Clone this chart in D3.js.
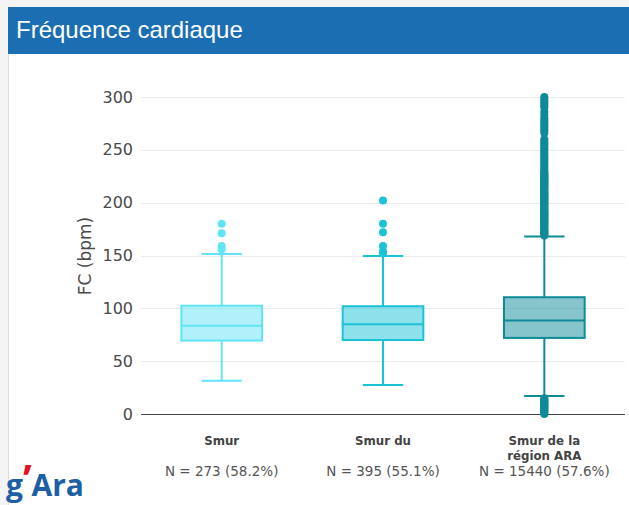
<!DOCTYPE html>
<html><head><meta charset="utf-8">
<script src="https://cdn.jsdelivr.net/npm/d3@7"></script>
<style>html,body{margin:0;padding:0;background:#f4f4f4;overflow:hidden}</style>
</head><body><svg id="c" width="629" height="505"></svg>
<script>
const title = "Fréquence cardiaque";
const yLabel = "FC (bpm)";
const categories = ["Smur", "Smur du", "Smur de la région ARA"];
const catLines = [["Smur"], ["Smur du"], ["Smur de la", "région ARA"]];
const counts = ["N = 273 (58.2%)", "N = 395 (55.1%)", "N = 15440 (57.6%)"];
const lowerWhisker = [31.5, 27.5, 17];
const q1 = [69.5, 70, 72];
const median = [83.5, 85, 88.5];
const q3 = [102.5, 102, 110.5];
const upperWhisker = [151.5, 149.5, 168];
const outliersSmur = [180, 171, 159, 156];
const outliersSmurDu = [202, 180, 172, 159, 154, 152];
const outliersAra = [0,1,2,3,4,5,6,7,8,9,10,11,12,13,14,15,
  169,170,171,172,173,174,175,176,177,178,179,180,181,182,183,184,185,186,187,188,189,190,
  191,192,193,194,195,196,197,198,199,200,201,202,203,204,205,206,207,208,209,210,211,212,
  213,214,215,216,217,218,219,220,221,222,223,224,225,226,227,228,229,230,232,234,236,238,
  240,242,244,246,248,250,252,254,256,258,260,266,268,270,272,274,276,278,280,283,286,
  290,292,294,296,298,300];
const outliers = [outliersSmur, outliersSmurDu, outliersAra];
const colors = ["#62e4f7", "#1cc3d6", "#0e8b97"];
const yTicks = [0, 50, 100, 150, 200, 250, 300];

const svg = d3.select("#c");
// panel
svg.append("rect").attr("x", 8).attr("y", 54).attr("width", 621).attr("height", 451)
  .attr("fill", "#fff");
svg.append("line").attr("x1", 8.5).attr("x2", 8.5).attr("y1", 54).attr("y2", 505)
  .attr("stroke", "#dcdcdc");
svg.append("rect").attr("x", 8).attr("y", 7).attr("width", 621).attr("height", 47)
  .attr("fill", "#1b6eb2");
svg.append("text").attr("x", 16).attr("y", 38).text(title)
  .attr("fill", "#fff").attr("font-family", "Liberation Sans, Arial, sans-serif")
  .attr("font-size", 24);

const y = d3.scaleLinear().domain([0, 300]).range([414, 97]);
const x = d3.scaleBand().domain(categories).range([141, 625]).padding(0);

// grid
const g = svg.append("g");
g.selectAll("line.grid").data(yTicks.filter(d => d > 0)).join("line")
  .attr("x1", 141).attr("x2", 625)
  .attr("y1", d => Math.round(y(d)) + 0.5).attr("y2", d => Math.round(y(d)) + 0.5)
  .attr("stroke", "#ebebeb").attr("stroke-width", 1);
g.append("line").attr("x1", 141).attr("x2", 625)
  .attr("y1", Math.round(y(0)) + 0.5).attr("y2", Math.round(y(0)) + 0.5)
  .attr("stroke", "#444").attr("stroke-width", 1);

// y axis
const yAxis = d3.axisLeft(y).tickValues(yTicks).tickSize(0).tickPadding(4);
const ya = svg.append("g").attr("transform", "translate(137,0)").call(yAxis);
ya.select(".domain").remove();
ya.selectAll("text").attr("font-family", "DejaVu Sans, Verdana, sans-serif")
  .attr("font-size", 16).attr("fill", "#4a4a4a");
svg.append("text").attr("transform", "translate(91,256) rotate(-90)")
  .attr("text-anchor", "middle").text(yLabel)
  .attr("font-family", "DejaVu Sans, Verdana, sans-serif").attr("font-size", 17).attr("fill", "#4a4a4a");

// boxes
categories.forEach((c, i) => {
  const cx = x(c) + x.bandwidth() / 2;
  const bw = x.bandwidth() / 2;
  const col = colors[i];
  const bg = svg.append("g");
  bg.append("line").attr("x1", cx).attr("x2", cx)
    .attr("y1", y(upperWhisker[i])).attr("y2", y(q3[i])).attr("stroke", col).attr("stroke-width", 2);
  bg.append("line").attr("x1", cx).attr("x2", cx)
    .attr("y1", y(q1[i])).attr("y2", y(lowerWhisker[i])).attr("stroke", col).attr("stroke-width", 2);
  [upperWhisker[i], lowerWhisker[i]].forEach(v => {
    bg.append("line").attr("x1", cx - bw / 4).attr("x2", cx + bw / 4)
      .attr("y1", y(v)).attr("y2", y(v)).attr("stroke", col).attr("stroke-width", 2);
  });
  bg.append("rect").attr("x", cx - bw / 2).attr("width", bw)
    .attr("y", y(q3[i])).attr("height", y(q1[i]) - y(q3[i]))
    .attr("fill", col).attr("fill-opacity", 0.5).attr("stroke", col).attr("stroke-width", 2);
  bg.append("line").attr("x1", cx - bw / 2).attr("x2", cx + bw / 2)
    .attr("y1", y(median[i])).attr("y2", y(median[i])).attr("stroke", col).attr("stroke-width", 2);
  bg.selectAll("circle").data(outliers[i]).join("circle")
    .attr("cx", cx).attr("cy", d => y(d)).attr("r", 4).attr("fill", col);
  catLines[i].forEach((t, k) => {
    svg.append("text").attr("x", cx).attr("y", 445 + k * 14.5).attr("text-anchor", "middle")
      .text(t).attr("font-family", "DejaVu Sans, Verdana, sans-serif").attr("font-weight", "bold")
      .attr("font-size", 11.8).attr("fill", "#444");
  });
  svg.append("text").attr("x", cx).attr("y", 476).attr("text-anchor", "middle")
    .text(counts[i]).attr("font-family", "DejaVu Sans, Verdana, sans-serif")
    .attr("font-size", 13.5).attr("fill", "#555");
});

// logo
const logo = svg.append("text").attr("x", 84).attr("y", 496).attr("text-anchor", "end")
  .attr("font-family", "Open Sans, Liberation Sans, sans-serif").attr("font-weight", "bold")
  .attr("font-size", 30).attr("fill", "#1d5fa4");
logo.append("tspan").text("g");
logo.append("tspan").text("’").attr("fill", "#e0161f").attr("font-size", 40).attr("dy", -3);
logo.append("tspan").text("Ara").attr("dy", 3);
</script></body></html>
